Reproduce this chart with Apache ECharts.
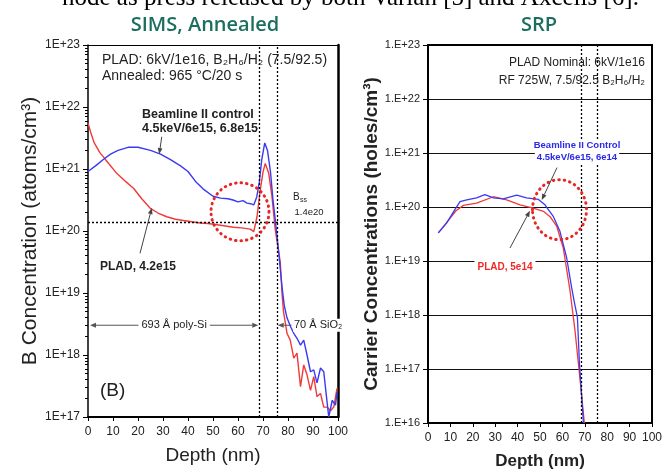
<!DOCTYPE html>
<html><head><meta charset="utf-8">
<script src="https://cdn.jsdelivr.net/npm/echarts@6/dist/echarts.min.js"></script>
<style>html,body{margin:0;padding:0;background:#fff}#c{width:668px;height:475px}</style>
</head><body><div id="c"></div>
<script>
// ---- data (depth in nm, concentration as log10 exponent) ----
const simsBeamDepth = [0,3,6,9,12,16,20,25,29,33,37,40,43,46,50,53,56,58,60,62,63.6,65,66.3,67.5,68.5,69.5,70.7,71.8,73,74,74.9,76.2,77.6,78.5,79.6,81,82.3,83.6,85,86.3,87.6,89,90.3,91.6,93,94.3,95,96.3,97.7,99,99.6];
const simsBeamExp = [20.96,21.05,21.15,21.24,21.30,21.35,21.35,21.30,21.24,21.15,21.05,20.96,20.80,20.68,20.56,20.53,20.52,20.50,20.47,20.49,20.45,20.44,20.42,20.55,20.78,21.15,21.42,21.30,20.95,20.50,20.18,19.69,19.10,18.80,18.60,18.46,18.35,18.27,18.16,18.24,18.00,17.73,17.76,17.55,17.79,17.73,17.47,17.00,17.27,17.19,17.40];
const simsPladDepth = [0,1,2.5,4.8,6.1,8,11.5,15,18.2,21.5,24.8,28,31.5,35,38.2,41.5,44.9,48,51.6,55,58.2,61.5,64.9,66.3,67.6,68.9,70,70.9,72.3,73.6,74.9,76.9,77.6,78.2,79.6,80.9,82.3,83.6,85,86.3,87.6,89,90.3,91.6,93,94.3,95.6,97,98.3,99.6];
const simsPladExp = [21.74,21.60,21.42,21.26,21.20,21.10,20.93,20.80,20.69,20.52,20.37,20.29,20.23,20.19,20.17,20.15,20.13,20.12,20.10,20.08,20.06,20.05,20.03,19.99,20.23,20.66,20.95,21.09,20.93,20.55,20.02,19.50,19.00,18.70,18.35,18.24,17.95,18.03,17.49,17.84,17.68,17.43,17.65,17.33,17.38,17.16,17.16,17.10,17.16,17.46];
const srpBeamDepth = [4.6,8.3,12,14.3,17.3,21.7,25.4,29.2,33.6,39.6,44,49.3,52.2,56,58.9,61.9,64.1,65.5,66.7,67.6,68.6,69.4];
const srpBeamExp = [19.52,19.70,19.95,20.10,20.13,20.17,20.23,20.17,20.15,20.22,20.17,20.14,20.04,19.82,19.55,19.06,18.51,18.20,17.96,17.11,16.50,16.00];
const srpPladDepth = [4.6,9.8,12.5,15.8,21.7,29.2,35.1,41.1,47,51.5,54.5,57.5,60.4,63.4,65.6,67.6,69.8];
const srpPladExp = [19.52,19.79,19.93,20.03,20.07,20.19,20.13,20.04,19.98,19.92,19.82,19.64,19.24,18.45,17.72,16.92,16.00];
const layerBounds = [68.5, 75.5];      // poly-Si / SiO2 interfaces (nm)
const bssLevel = 1.4e20;               // solid solubility
const simsTickPrefix = '1E+';
const srpTickPrefix = '1.E+';

const pairs = (xs, es) => xs.map((x, i) => [x, Math.pow(10, es[i])]);
const BLUE = '#3a3af2', RED = '#f03a3a', TEAL = '#1c6e5e';
const sans = '"Liberation Sans", Arial, sans-serif';

const chart = echarts.init(document.getElementById('c'));
const borderAxis = (g, pos, w) => ({
  gridIndex: g, type: 'value', min: 0, max: 1, position: pos,
  axisLine: { show: true, onZero: false, lineStyle: { color: '#000', width: w } },
  axisTick: { show: false }, axisLabel: { show: false }, splitLine: { show: false }
});
const dotted = { type: [2, 2], color: '#000', width: 1.3 };

chart.setOption({
  animation: false,
  backgroundColor: '#fff',
  title: [
    { text: 'SIMS, Annealed', left: 200, top: 10, textAlign: 'center',
      textStyle: { fontFamily: '"Open Sans"', fontWeight: 600, fontSize: 20, color: TEAL } },
    { text: 'SRP', left: 534, top: 10, textAlign: 'center',
      textStyle: { fontFamily: '"Open Sans"', fontWeight: 600, fontSize: 20, color: TEAL } }
  ],
  grid: [
    { left: 88, top: 45, width: 250, height: 372 },
    { left: 428, top: 45, width: 224, height: 382 }
  ],
  xAxis: [
    { gridIndex: 0, type: 'value', min: 0, max: 100, interval: 10, position: 'bottom',
      axisLine: { show: true, onZero: false, lineStyle: { color: '#000', width: 2 } },
      axisTick: { show: true, length: 4, lineStyle: { color: '#000' } },
      axisLabel: { fontSize: 12, color: '#222', margin: 9, fontFamily: sans },
      splitLine: { show: false },
      name: 'Depth (nm)', nameLocation: 'middle', nameGap: 29,
      nameTextStyle: { fontSize: 19, color: '#222', fontFamily: sans } },
    borderAxis(0, 'top', 1),
    { gridIndex: 1, type: 'value', min: 0, max: 100, interval: 10, position: 'bottom',
      axisLine: { show: true, onZero: false, lineStyle: { color: '#000', width: 2 } },
      axisTick: { show: true, length: 4, lineStyle: { color: '#000' } },
      axisLabel: { fontSize: 12, color: '#222', margin: 9, fontFamily: sans },
      splitLine: { show: false },
      name: 'Depth (nm)', nameLocation: 'middle', nameGap: 30,
      nameTextStyle: { fontSize: 17, fontWeight: 'bold', color: '#222', fontFamily: sans } },
    borderAxis(1, 'top', 2)
  ],
  yAxis: [
    { gridIndex: 0, type: 'log', logBase: 10, min: 1e17, max: 1e23, splitNumber: 6,
      axisLine: { show: true, onZero: false, lineStyle: { color: '#000', width: 1.5 } },
      axisTick: { show: true, length: 5, lineStyle: { color: '#000' } },
      minorTick: { show: true, splitNumber: 9, length: 3, lineStyle: { color: '#000' } },
      axisLabel: { fontSize: 12, color: '#222', margin: 8, fontFamily: sans,
        formatter: v => simsTickPrefix + Math.round(Math.log10(v)) },
      splitLine: { show: false },
      name: 'B Concentration (atoms/cm³)', nameLocation: 'middle', nameGap: 45,
      nameTextStyle: { fontSize: 21, color: '#222', fontFamily: sans } },
    borderAxis(0, 'right', 2.5),
    { gridIndex: 1, type: 'log', logBase: 10, min: 1e16, max: 1e23, splitNumber: 7,
      axisLine: { show: true, onZero: false, lineStyle: { color: '#000', width: 2 } },
      axisTick: { show: true, length: 5, lineStyle: { color: '#000' } },
      axisLabel: { fontSize: 11, color: '#222', margin: 8, fontFamily: sans,
        formatter: v => srpTickPrefix + Math.round(Math.log10(v)) },
      splitLine: { show: true, lineStyle: { color: '#111', width: 1.2 } },
      name: 'Carrier Concentrations (holes/cm³)', nameLocation: 'middle', nameGap: 41,
      nameTextStyle: { fontSize: 19, fontWeight: 'bold', color: '#222', fontFamily: sans } },
    borderAxis(1, 'right', 2)
  ],
  series: [
    { type: 'line', xAxisIndex: 0, yAxisIndex: 0, data: pairs(simsPladDepth, simsPladExp),
      symbol: 'none', lineStyle: { color: RED, width: 1.4 }, itemStyle: { color: RED },
      markLine: { silent: true, symbol: 'none', label: { show: false }, lineStyle: dotted,
        data: [{ xAxis: layerBounds[0] }, { xAxis: layerBounds[1] }, { yAxis: bssLevel }] } },
    { type: 'line', xAxisIndex: 0, yAxisIndex: 0, data: pairs(simsBeamDepth, simsBeamExp),
      symbol: 'none', lineStyle: { color: BLUE, width: 1.4 }, itemStyle: { color: BLUE } },
    { type: 'line', xAxisIndex: 2, yAxisIndex: 2, data: pairs(srpPladDepth, srpPladExp),
      symbol: 'none', lineStyle: { color: RED, width: 1.3 }, itemStyle: { color: RED },
      markLine: { silent: true, symbol: 'none', label: { show: false }, lineStyle: dotted,
        data: [{ xAxis: layerBounds[0] }, { xAxis: layerBounds[1] }] } },
    { type: 'line', xAxisIndex: 2, yAxisIndex: 2, data: pairs(srpBeamDepth, srpBeamExp),
      symbol: 'none', lineStyle: { color: BLUE, width: 1.3 }, itemStyle: { color: BLUE } }
  ]
});

// ---- annotations ----
const L = (x, e) => chart.convertToPixel({ xAxisIndex: 0, yAxisIndex: 0 }, [x, Math.pow(10, e)]);
const R = (x, e) => chart.convertToPixel({ xAxisIndex: 2, yAxisIndex: 2 }, [x, Math.pow(10, e)]);
function arrow(p, q, color) {
  const a = Math.atan2(q[1] - p[1], q[0] - p[0]);
  const len = 6, w = 2.4;
  const bx = q[0] - len * Math.cos(a), by = q[1] - len * Math.sin(a);
  const nx = -Math.sin(a) * w, ny = Math.cos(a) * w;
  return [
    { type: 'line', z: 100, shape: { x1: p[0], y1: p[1], x2: bx, y2: by }, style: { stroke: color, lineWidth: 1 } },
    { type: 'polygon', z: 100, shape: { points: [q, [bx + nx, by + ny], [bx - nx, by - ny]] }, style: { fill: color } }
  ];
}
function txt(x, y, text, o) {
  o = o || {};
  return { type: 'text', z: 110, x: x, y: y, style: Object.assign({
    text: text, fontSize: 12, fontFamily: sans, fill: '#222', align: 'left', verticalAlign: 'middle'
  }, o) };
}
const dotCircle = { fill: 'none', stroke: '#e82626', lineWidth: 3, lineDash: [0.5, 5], lineCap: 'round' };
const c1 = L(60.8, 20.31), c2 = R(58.7, 19.95);
const polyY = 18.48;
const pA = L(0.4, polyY), pB = L(layerBounds[0], polyY), pS = L(81.4, polyY), pT = L(layerBounds[1], polyY);
const mid = [(pA[0] + pB[0]) / 2, pA[1]];

const g = [
  txt(62, -2, 'node as press released by both Varian [5] and Axcelis [6].',
      { fontFamily: '"Liberation Serif", "Times New Roman", serif', fontSize: 25, fill: '#000' }),
  // left panel texts
  txt(102, 60, 'PLAD: 6kV/1e16, B₂H₆/H₂ (7.5/92.5)', { fontSize: 14 }),
  txt(102, 76, 'Annealed: 965 °C/20 s', { fontSize: 14 }),
  txt(142, 115, 'Beamline II control', { fontSize: 12.5, fontWeight: 'bold' }),
  txt(142, 129, '4.5keV/6e15, 6.8e15', { fontSize: 12.5, fontWeight: 'bold' }),
  txt(100, 267, 'PLAD, 4.2e15', { fontSize: 12, fontWeight: 'bold' }),
  txt(293, 197, 'B', { fontSize: 10 }),
  txt(300, 200, 'ss', { fontSize: 7 }),
  txt(309, 212, '1.4e20', { fontSize: 9.5, align: 'center' }),
  txt(100, 391, '(B)', { fontSize: 19 }),
  { type: 'circle', z: 90, shape: { cx: c1[0], cy: c1[1], r: 29 }, style: dotCircle },
  ...arrow(L(29.5, 21.52), L(28.5, 21.24), '#444'),
  ...arrow(L(20.8, 19.64), L(25.5, 20.37), '#444'),
  ...arrow(mid, [pA[0] + 1, pA[1]], '#555'),
  ...arrow(mid, [pB[0] - 1, pB[1]], '#555'),
  txt(mid[0], mid[1], '693 Å poly-Si', { fontSize: 11, align: 'center', backgroundColor: '#fff', padding: [1, 3] }),
  ...arrow(pS, [pT[0] + 1, pT[1]], '#555'),
  txt(293, pS[1], '70 Å SiO₂', { fontSize: 11, backgroundColor: '#fff', padding: [1, 1] }),
  // right panel texts
  txt(645, 63, 'PLAD Nominal: 6kV/1e16', { fontSize: 12, align: 'right' }),
  txt(645, 81, 'RF 725W, 7.5/92.5 B₂H₆/H₂', { fontSize: 12, align: 'right' }),
  txt(577, 145, 'Beamline II Control', { fontSize: 9.5, fontWeight: 'bold', fill: '#2a2ae8', align: 'center', backgroundColor: '#fff', padding: [1, 2] }),
  txt(577, 157.5, '4.5keV/6e15, 6e14', { fontSize: 9.5, fontWeight: 'bold', fill: '#2a2ae8', align: 'center', backgroundColor: '#fff', padding: [1, 2] }),
  txt(505, 267, 'PLAD, 5e14', { fontSize: 10, fontWeight: 'bold', fill: '#ee2a2a', align: 'center', backgroundColor: '#fff', padding: [1, 3] }),
  { type: 'ellipse', z: 90, shape: { cx: c2[0], cy: c2[1], rx: 27, ry: 30 }, style: dotCircle },
  ...arrow(R(57.6, 20.73), R(50.8, 20.13), '#444'),
  ...arrow(R(36.6, 19.24), R(45.5, 19.93), '#444')
];
chart.setOption({ graphic: g });
</script>
</body></html>
